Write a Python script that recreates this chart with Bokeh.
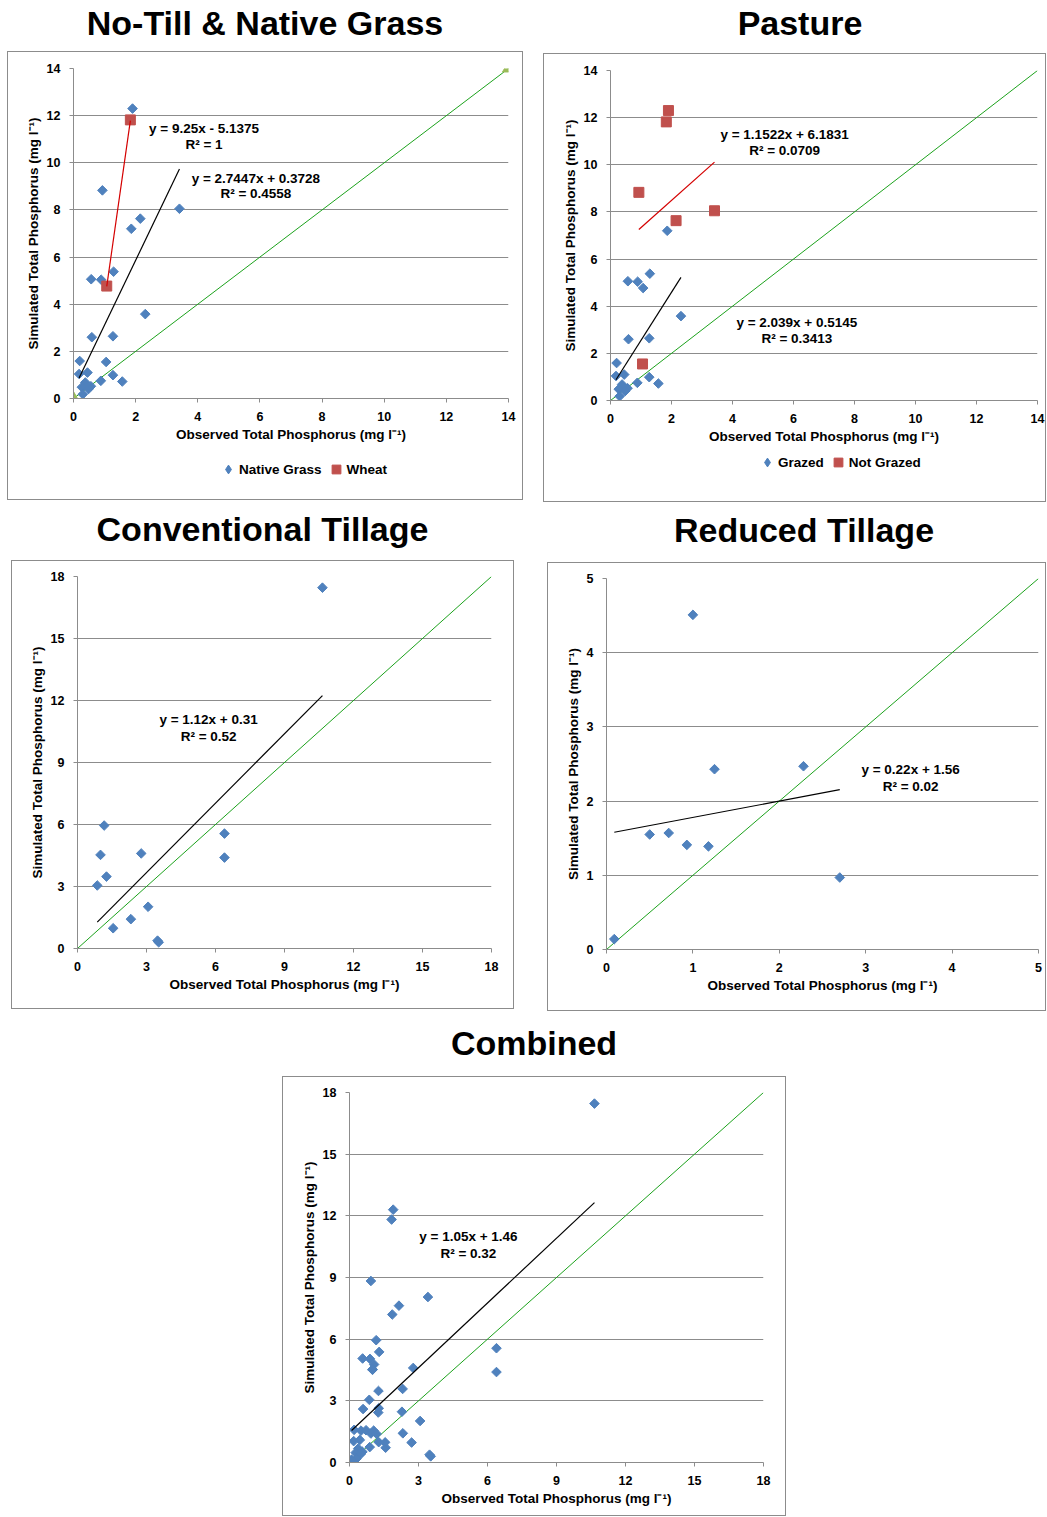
import numpy as np
from bokeh.plotting import figure
from bokeh.models import Range1d, FixedTicker, Legend, LegendItem, Div, Spacer
from bokeh.layouts import row, column
from bokeh.embed import file_html
from bokeh.resources import INLINE
from bokeh.core.properties import value

# ---------------- data ----------------
# No-Till & Native Grass panel
native_x = [1.90, 0.93, 3.41, 2.15, 1.86, 0.57, 0.89, 1.29, 2.31, 0.59, 1.27, 0.20,
            1.05, 0.18, 0.45, 1.27, 0.88, 1.57, 0.38, 0.27, 0.56, 0.48, 0.30]
native_y = [12.30, 8.83, 8.05, 7.63, 7.20, 5.06, 5.04, 5.38, 3.58, 2.60, 2.64, 1.59,
            1.55, 1.04, 1.10, 0.99, 0.75, 0.72, 0.68, 0.48, 0.52, 0.40, 0.18]
wheat_x = [1.83, 1.07]
wheat_y = [11.82, 4.77]

# Pasture panel
grazed_x = [1.86, 0.57, 0.89, 1.29, 1.07, 2.31, 0.59, 1.27, 0.20, 0.18, 0.45, 1.27,
            0.88, 1.57, 0.38, 0.27, 0.56, 0.48, 0.30]
grazed_y = [7.20, 5.06, 5.04, 5.38, 4.77, 3.58, 2.60, 2.64, 1.59, 1.04, 1.10, 0.99,
            0.75, 0.72, 0.68, 0.48, 0.52, 0.40, 0.18]
notgrazed_x = [1.90, 1.83, 0.93, 3.41, 2.15, 1.05]
notgrazed_y = [12.30, 11.82, 8.83, 8.05, 7.63, 1.55]

# Conventional Tillage panel
ct_x = [10.65, 6.39, 6.39, 1.16, 1.00, 2.77, 1.26, 0.86, 3.07, 2.32, 1.55, 3.53, 3.48]
ct_y = [17.46, 5.56, 4.40, 5.95, 4.53, 4.60, 3.48, 3.05, 2.02, 1.42, 0.98, 0.30, 0.38]

# Reduced Tillage panel
rt_x = [1.00, 1.25, 2.28, 0.50, 0.72, 0.93, 1.18, 2.70, 0.09]
rt_y = [4.51, 2.43, 2.47, 1.55, 1.57, 1.41, 1.39, 0.97, 0.14]

# Combined panel = all observations
comb_x = native_x + wheat_x + ct_x + rt_x
comb_y = native_y + wheat_y + ct_y + rt_y

# trendline equations (slope, intercept) and printed labels
native_fit = (2.7447, 0.3728)
wheat_fit = (9.25, -5.1375)
grazed_fit = (2.039, 0.5145)
notgrazed_fit = (1.1522, 6.1831)
ct_fit = (1.12, 0.31)
rt_fit = (0.22, 1.56)
comb_fit = (1.05, 1.46)

native_eq = ["y = 2.7447x + 0.3728", "R² = 0.4558"]
wheat_eq = ["y = 9.25x - 5.1375", "R² = 1"]
grazed_eq = ["y = 2.039x + 0.5145", "R² = 0.3413"]
notgrazed_eq = ["y = 1.1522x + 6.1831", "R² = 0.0709"]
ct_eq = ["y = 1.12x + 0.31", "R² = 0.52"]
rt_eq = ["y = 0.22x + 1.56", "R² = 0.02"]
comb_eq = ["y = 1.05x + 1.46", "R² = 0.32"]

ticks_14 = [0, 2, 4, 6, 8, 10, 12, 14]
ticks_18 = [0, 3, 6, 9, 12, 15, 18]
ticks_5 = [0, 1, 2, 3, 4, 5]

titles = ["No-Till &amp; Native Grass", "Pasture", "Conventional Tillage",
          "Reduced Tillage", "Combined"]
x_label = "Observed Total Phosphorus (mg l⁻¹)"
y_label = "Simulated Total Phosphorus (mg l⁻¹)"

# ---------------- styling ----------------
FONT = "Liberation Sans"
BLUE = "#4F81BD"
RED = "#C0504D"
TREND_RED = "#D40000"
GREEN = "#1CA21C"
TRI = "#9BBB59"
GRAY = "#8C8C8C"
BORDER = "1px solid #8c8c8c"


def base_fig(w, h, mbl, mbr, mbt, mbb, ticks, styles):
    top = ticks[-1]
    p = figure(width=w, height=h, x_range=Range1d(0, top), y_range=Range1d(0, top),
               output_backend="svg", toolbar_location=None, title=None,
               min_border_left=mbl, min_border_right=mbr,
               min_border_top=mbt, min_border_bottom=mbb,
               background_fill_color="white", border_fill_color="white",
               outline_line_color=None)
    p.styles = styles
    for ax in (p.xaxis[0], p.yaxis[0]):
        ax.ticker = FixedTicker(ticks=ticks)
        ax.axis_line_color = GRAY
        ax.major_tick_line_color = GRAY
        ax.major_tick_out = 4
        ax.major_tick_in = 0
        ax.minor_tick_line_color = None
        ax.major_label_text_font = FONT
        ax.major_label_text_font_style = "bold"
        ax.major_label_text_font_size = "12.5px"
        ax.major_label_text_color = "black"
        ax.axis_label_text_font = FONT
        ax.axis_label_text_font_style = "bold"
        ax.axis_label_text_font_size = "13.5px"
        ax.axis_label_text_color = "black"
    p.xaxis.axis_label = x_label
    p.yaxis.axis_label = y_label
    p.xaxis.major_label_standoff = 9
    p.xaxis.axis_label_standoff = 3
    p.yaxis.major_label_standoff = 9
    p.yaxis.axis_label_standoff = 3
    p.xgrid.visible = False
    p.ygrid.ticker = FixedTicker(ticks=ticks)
    p.ygrid.grid_line_color = GRAY
    p.ygrid.grid_line_width = 1
    # 1:1 line
    p.line([0, top], [0, top], line_color=GREEN, line_width=1)
    return p


def diamonds(p, xs, ys):
    return p.scatter(xs, ys, marker="square", angle=np.pi / 4, size=6.8,
                     fill_color=BLUE, line_color=BLUE)


def squares(p, xs, ys):
    return p.scatter(xs, ys, marker="square", size=10, fill_color=RED, line_color=RED)


def trend(p, xs, fit, color):
    a, b = fit
    x0, x1 = min(xs), max(xs)
    p.line([x0, x1], [a * x0 + b, a * x1 + b], line_color=color, line_width=1.2)


def eq_label(p, cx, cy1, cy2, lines):
    p.text(x=[cx, cx], y=[cy1, cy2], text=lines, text_align="center",
           text_baseline="middle", text_font=value(FONT), text_font_style="bold",
           text_font_size="13.5px", text_color="black")


def legend_fig(w, h, labels, series, vx, vy):
    # a strip under the chart that only holds the legend; its ranges exclude the data
    q = figure(width=w, height=h, x_range=Range1d(-2, -1), y_range=Range1d(-2, -1),
               output_backend="svg", toolbar_location=None, title=None,
               x_axis_location=None, y_axis_location=None,
               min_border_left=0, min_border_right=0, min_border_top=0,
               min_border_bottom=0, outline_line_color=None,
               background_fill_color="white", border_fill_color="white")
    q.xgrid.visible = False
    q.ygrid.visible = False
    q.styles = {"border-left": BORDER, "border-right": BORDER, "border-bottom": BORDER}
    (ax, ay), (bx, by) = series
    d1 = q.scatter(ax, ay, marker="diamond", size=8, fill_color=BLUE, line_color=BLUE)
    d2 = q.scatter(bx, by, marker="square", size=8, fill_color=RED, line_color=RED)
    leg = Legend(items=[LegendItem(label=labels[0], renderers=[d1]),
                        LegendItem(label=labels[1], renderers=[d2])],
                 orientation="horizontal", location=(vx, vy), border_line_color=None,
                 background_fill_alpha=0, glyph_width=22, glyph_height=22,
                 label_standoff=0, spacing=3, padding=0, margin=0,
                 label_text_font=FONT, label_text_font_style="bold",
                 label_text_font_size="13.5px", label_text_color="black",
                 label_height=16)
    q.add_layout(leg, "center")
    return q


def title_div(text, w, h, pad_top, pad_left=0):
    html = ('<div style="box-sizing:border-box;width:%dpx;margin-top:%dpx;padding-left:%dpx;'
            'text-align:center;font-family:\'Liberation Sans\',Arial,sans-serif;'
            'font-weight:bold;font-size:34px;line-height:34px;color:#000;'
            'white-space:nowrap">%s</div>' % (w, pad_top, pad_left, text))
    return Div(text=html, width=w, height=h, margin=(0, 0, 0, 0))


top_open = {"border-left": BORDER, "border-right": BORDER, "border-top": BORDER}
full_box = {"border": BORDER}

# ---------------- panel 1: No-Till & Native Grass ----------------
p1 = base_fig(516, 401, 65, 16, 16, 55, ticks_14, top_open)
p1.scatter([0, ticks_14[-1]], [0, ticks_14[-1]], marker="triangle", size=12,
           fill_color=TRI, line_color=TRI)
diamonds(p1, native_x, native_y)
squares(p1, wheat_x, wheat_y)
trend(p1, native_x, native_fit, "black")
trend(p1, wheat_x, wheat_fit, TREND_RED)
eq_label(p1, 4.2, 11.45, 10.78, wheat_eq)
eq_label(p1, 5.87, 9.33, 8.70, native_eq)
l1 = legend_fig(516, 48, ["Native Grass", "Wheat"],
                [(native_x, native_y), (wheat_x, wheat_y)], 144, 20)

# ---------------- panel 2: Pasture ----------------
p2 = base_fig(503, 396, 66, 10, 16, 50, ticks_14, top_open)
diamonds(p2, grazed_x, grazed_y)
squares(p2, notgrazed_x, notgrazed_y)
trend(p2, grazed_x, grazed_fit, "black")
trend(p2, notgrazed_x, notgrazed_fit, TREND_RED)
eq_label(p2, 5.71, 11.29, 10.61, notgrazed_eq)
eq_label(p2, 6.11, 3.31, 2.63, grazed_eq)
l2 = legend_fig(503, 53, ["Grazed", "Not Grazed"],
                [(grazed_x, grazed_y), (notgrazed_x, notgrazed_y)], 146, 29)

# ---------------- panel 3: Conventional Tillage ----------------
p3 = base_fig(503, 449, 65, 24, 15, 62, ticks_18, full_box)
diamonds(p3, ct_x, ct_y)
trend(p3, ct_x, ct_fit, "black")
eq_label(p3, 5.70, 11.08, 10.26, ct_eq)

# ---------------- panel 4: Reduced Tillage ----------------
p4 = base_fig(499, 449, 58, 9, 15, 63, ticks_5, full_box)
diamonds(p4, rt_x, rt_y)
trend(p4, rt_x, rt_fit, "black")
eq_label(p4, 3.52, 2.43, 2.20, rt_eq)

# ---------------- panel 5: Combined ----------------
p5 = base_fig(504, 440, 66, 24, 15, 55, ticks_18, full_box)
diamonds(p5, comb_x, comb_y)
trend(p5, comb_x, comb_fit, "black")
eq_label(p5, 5.17, 10.99, 10.17, comb_eq)

# ---------------- layout ----------------
t1 = title_div(titles[0], 516, 51, 6)
t2 = title_div(titles[1], 503, 53, 6, 11)
t3 = title_div(titles[2], 503, 58, 10)
t4 = title_div(titles[3], 499, 60, 11, 15)
t5 = title_div(titles[4], 504, 65, 15)

row1 = row(Spacer(width=7, height=10), column(t1, p1, l1), Spacer(width=20, height=10),
           column(t2, p2, l2))
row2 = row(Spacer(width=11, height=10), column(t3, p3), Spacer(width=33, height=10),
           column(t4, p4))
row3 = row(Spacer(width=282, height=10), column(t5, p5))
page = column(row1, row2, row3)

open("out.html", "w").write(file_html(page, INLINE))
